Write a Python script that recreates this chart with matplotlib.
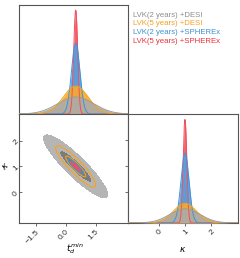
import numpy as np
import matplotlib
matplotlib.use("Agg")
import matplotlib.pyplot as plt

plt.rcParams['font.family'] = ['Liberation Sans', 'DejaVu Sans']
plt.rcParams['mathtext.fontset'] = 'dejavusans'

# ---- data ----
labels = ["LVK(2 years) +DESI", "LVK(5 years) +DESI",
          "LVK(2 years) +SPHEREx", "LVK(5 years) +SPHEREx"]
label_colors = ["#8c8c8c", "#f5a020", "#3f8fd0", "#e8303a"]
fill_colors = ["#ababab", "#fbaa2a", "#4fa3e3", "#f5515f"]
line_colors = ["#9a9a9a", "#f7a21b", "#3d95dc", "#f0505c"]

mean_t = [0.5, 0.5, 0.5, 0.5]
mean_k = [1.0, 1.0, 1.0, 1.0]
sigma_t = [0.8, 0.5, 0.19, 0.12]
sigma_k = [0.61, 0.4, 0.145, 0.09]
rho = [-0.9, -0.9, -0.9, -0.9]
peak_t = [0.156, 0.257, 0.65, 0.954]
peak_k = [0.13, 0.18, 0.64, 0.95]
width1d_t = [0.9, 0.62, 0.21, 0.1]
width1d_k = [0.58, 0.44, 0.155, 0.07]

t_ticks = [-1.5, 0.0, 1.5]
t_ticklabels = ["\u22121.5", "0.0", "1.5"]
k_ticks = [0, 1, 2]
k_ticklabels = ["0", "1", "2"]
t_lim = (-2.31, 3.11)
k_lim = (-1.19, 3.03)
levels_sq = [1.0, 4.0]

W, H = 240, 258

# ---- figure ----
fig = plt.figure(figsize=(2.4, 2.58), dpi=100)
ax_t = fig.add_axes([0.081, 0.558, 0.452, 0.4225])
ax_2d = fig.add_axes([0.081, 0.1357, 0.452, 0.4225])
ax_k = fig.add_axes([0.533, 0.1357, 0.458, 0.4225])

for ax in (ax_t, ax_2d, ax_k):
    for s in ax.spines.values():
        s.set_color("#555555")
        s.set_linewidth(0.8)
    ax.tick_params(length=2.5, width=0.6, color="#555555", labelsize=6,
                   labelcolor="#333333", pad=1.5)

def one_d(ax, xs, means, widths, peaks):
    order = [3, 2, 1, 0]
    for z, i in enumerate(order):
        y = peaks[i] * np.exp(-0.5 * ((xs - means[i]) / widths[i]) ** 2)
        ax.fill_between(xs, 0, y, color=fill_colors[i], alpha=0.9,
                        lw=0, zorder=1 + z)
    for i in order:
        y = peaks[i] * np.exp(-0.5 * ((xs - means[i]) / widths[i]) ** 2)
        ax.plot(xs, y, color=line_colors[i], lw=0.7, zorder=10)

xs_t = np.linspace(t_lim[0], t_lim[1], 800)
one_d(ax_t, xs_t, mean_t, width1d_t, peak_t)
ax_t.set_xlim(*t_lim)
ax_t.set_ylim(0, 1)
ax_t.set_xticks(t_ticks)
ax_t.set_xticklabels([])
ax_t.set_yticks([])
ax_t.tick_params(axis='x', direction='out')

xs_k = np.linspace(k_lim[0], k_lim[1], 800)
one_d(ax_k, xs_k, mean_k, width1d_k, peak_k)
ax_k.set_xlim(*k_lim)
ax_k.set_ylim(0, 1)
ax_k.set_xticks(k_ticks)
ax_k.set_xticklabels(k_ticklabels, rotation=45, ha='right', va='top',
                     rotation_mode='anchor')
ax_k.set_yticks([0.28, 0.52, 0.76])
ax_k.set_yticklabels([])
ax_k.tick_params(axis='x', direction='out')
ax_k.tick_params(axis='y', direction='out')

# 2D
T, K = np.meshgrid(np.linspace(t_lim[0], t_lim[1], 400),
                   np.linspace(k_lim[0], k_lim[1], 400))
def d2(i):
    u = (T - mean_t[i]) / sigma_t[i]
    v = (K - mean_k[i]) / sigma_k[i]
    r = rho[i]
    return (u * u - 2 * r * u * v + v * v) / (1 - r * r)

ax_2d.contourf(T, K, d2(0), levels=[0, 1, 4], colors=["#7b7b7b", "#b5b5b5"],
               zorder=1)
ax_2d.contourf(T, K, d2(3), levels=[0, 4], colors=["#f08090"], alpha=0.35,
               zorder=2)
for i in (1, 2, 3):
    ax_2d.contour(T, K, d2(i), levels=levels_sq, colors=[line_colors[i]],
                  linewidths=0.8, zorder=3 + i)
ax_2d.set_xlim(*t_lim)
ax_2d.set_ylim(*k_lim)
ax_2d.set_xticks(t_ticks)
ax_2d.set_xticklabels(t_ticklabels, rotation=45, ha='right', va='top',
                      rotation_mode='anchor')
ax_2d.set_yticks(k_ticks)
ax_2d.set_yticklabels(k_ticklabels, rotation=45, ha='right', va='center',
                      rotation_mode='anchor')
ax_2d.tick_params(axis='x', direction='out')
ax_2d.tick_params(axis='y', direction='in')

# axis labels
fig.text(75 / W, 1 - 249 / H, r"$t_d^{min}$", fontsize=6.5,
         ha='center', va='center')
fig.text(183 / W, 1 - 249 / H, r"$\kappa$", fontsize=6.5,
         ha='center', va='center')
fig.text(5 / W, 1 - 166 / H, r"$\kappa$", fontsize=6.5,
         ha='center', va='center', rotation=45)

# legend text
for j, (lab, col) in enumerate(zip(labels, label_colors)):
    fig.text(133 / W, 1 - (15.5 + 8.5 * j) / H, lab, color=col,
             fontsize=5.6, ha='left', va='center')

fig.savefig("out.png", dpi=100)
